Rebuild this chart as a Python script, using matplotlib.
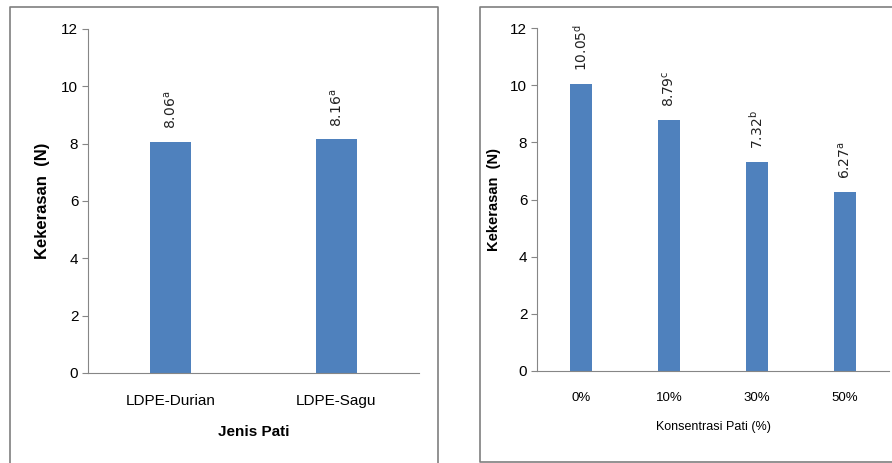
import matplotlib.pyplot as plt
from matplotlib.lines import Line2D

# data
jenis = ['LDPE-Durian', 'LDPE-Sagu']
keras_jenis = [8.06, 8.16]
notasi_jenis = ['a', 'a']

konsentrasi = ['0%', '10%', '30%', '50%']
keras_konsentrasi = [10.05, 8.79, 7.32, 6.27]
notasi_konsentrasi = ['d', 'c', 'b', 'a']

bar_color = '#4F81BD'
axis_color = '#868686'
W, H = 892, 463

plt.rcParams['font.family'] = ['Liberation Sans', 'DejaVu Sans']

fig = plt.figure(figsize=(W / 100, H / 100), dpi=100)


def px_axes(x0, y0, x1, y1):
    return fig.add_axes([x0 / W, 1 - y1 / H, (x1 - x0) / W, (y1 - y0) / H])


def frame_line(xs, ys):
    fig.add_artist(Line2D([x / W for x in xs], [1 - y / H for y in ys],
                          color='#7f7f7f', lw=1.2, transform=fig.transFigure))


def style_axes(ax, n, xpad):
    ax.set_xlim(-0.5, n - 0.5)
    ax.set_ylim(0, 12)
    ax.set_yticks(range(0, 13, 2))
    for s in ['top', 'right']:
        ax.spines[s].set_visible(False)
    for s in ['left', 'bottom']:
        ax.spines[s].set_color(axis_color)
    ax.tick_params(axis='y', color=axis_color, length=4, labelsize=11, pad=3)
    ax.tick_params(axis='x', length=0, pad=xpad)


def add_labels(ax, vals, notes):
    for i, (v, n) in enumerate(zip(vals, notes)):
        ax.annotate(f'{v:.2f}' + r'$^{\mathrm{' + n + '}}$', (i, v),
                    xytext=(0, 9), textcoords='offset points',
                    rotation=90, ha='center', va='bottom',
                    fontsize=10, family='DejaVu Sans', color='#222222')


# panel kiri
frame_line([10, 10, 438, 438], [470, 7, 7, 470])
ax1 = px_axes(88, 29, 419, 373)
ax1.bar(range(len(jenis)), keras_jenis, width=0.25, color=bar_color)
style_axes(ax1, len(jenis), 15)
ax1.set_xticks(range(len(jenis)))
ax1.set_xticklabels(jenis, fontsize=11)
add_labels(ax1, keras_jenis, notasi_jenis)
ax1.set_xlabel('Jenis Pati', fontsize=11, fontweight='bold', labelpad=12)
ax1.set_ylabel('Kekerasan  (N)', fontsize=12, fontweight='bold', labelpad=8)

# panel kanan
frame_line([900, 480, 480, 900], [7, 7, 462, 462])
ax2 = px_axes(537, 28, 889, 371)
ax2.bar(range(len(konsentrasi)), keras_konsentrasi, width=0.25, color=bar_color)
style_axes(ax2, len(konsentrasi), 15)
ax2.set_xticks(range(len(konsentrasi)))
ax2.set_xticklabels(konsentrasi, fontsize=9.5)
add_labels(ax2, keras_konsentrasi, notasi_konsentrasi)
ax2.set_xlabel('Konsentrasi Pati (%)', fontsize=9, labelpad=12)
ax2.set_ylabel('Kekerasan  (N)', fontsize=10.5, fontweight='bold', labelpad=7)

fig.savefig('out.png', dpi=100)
